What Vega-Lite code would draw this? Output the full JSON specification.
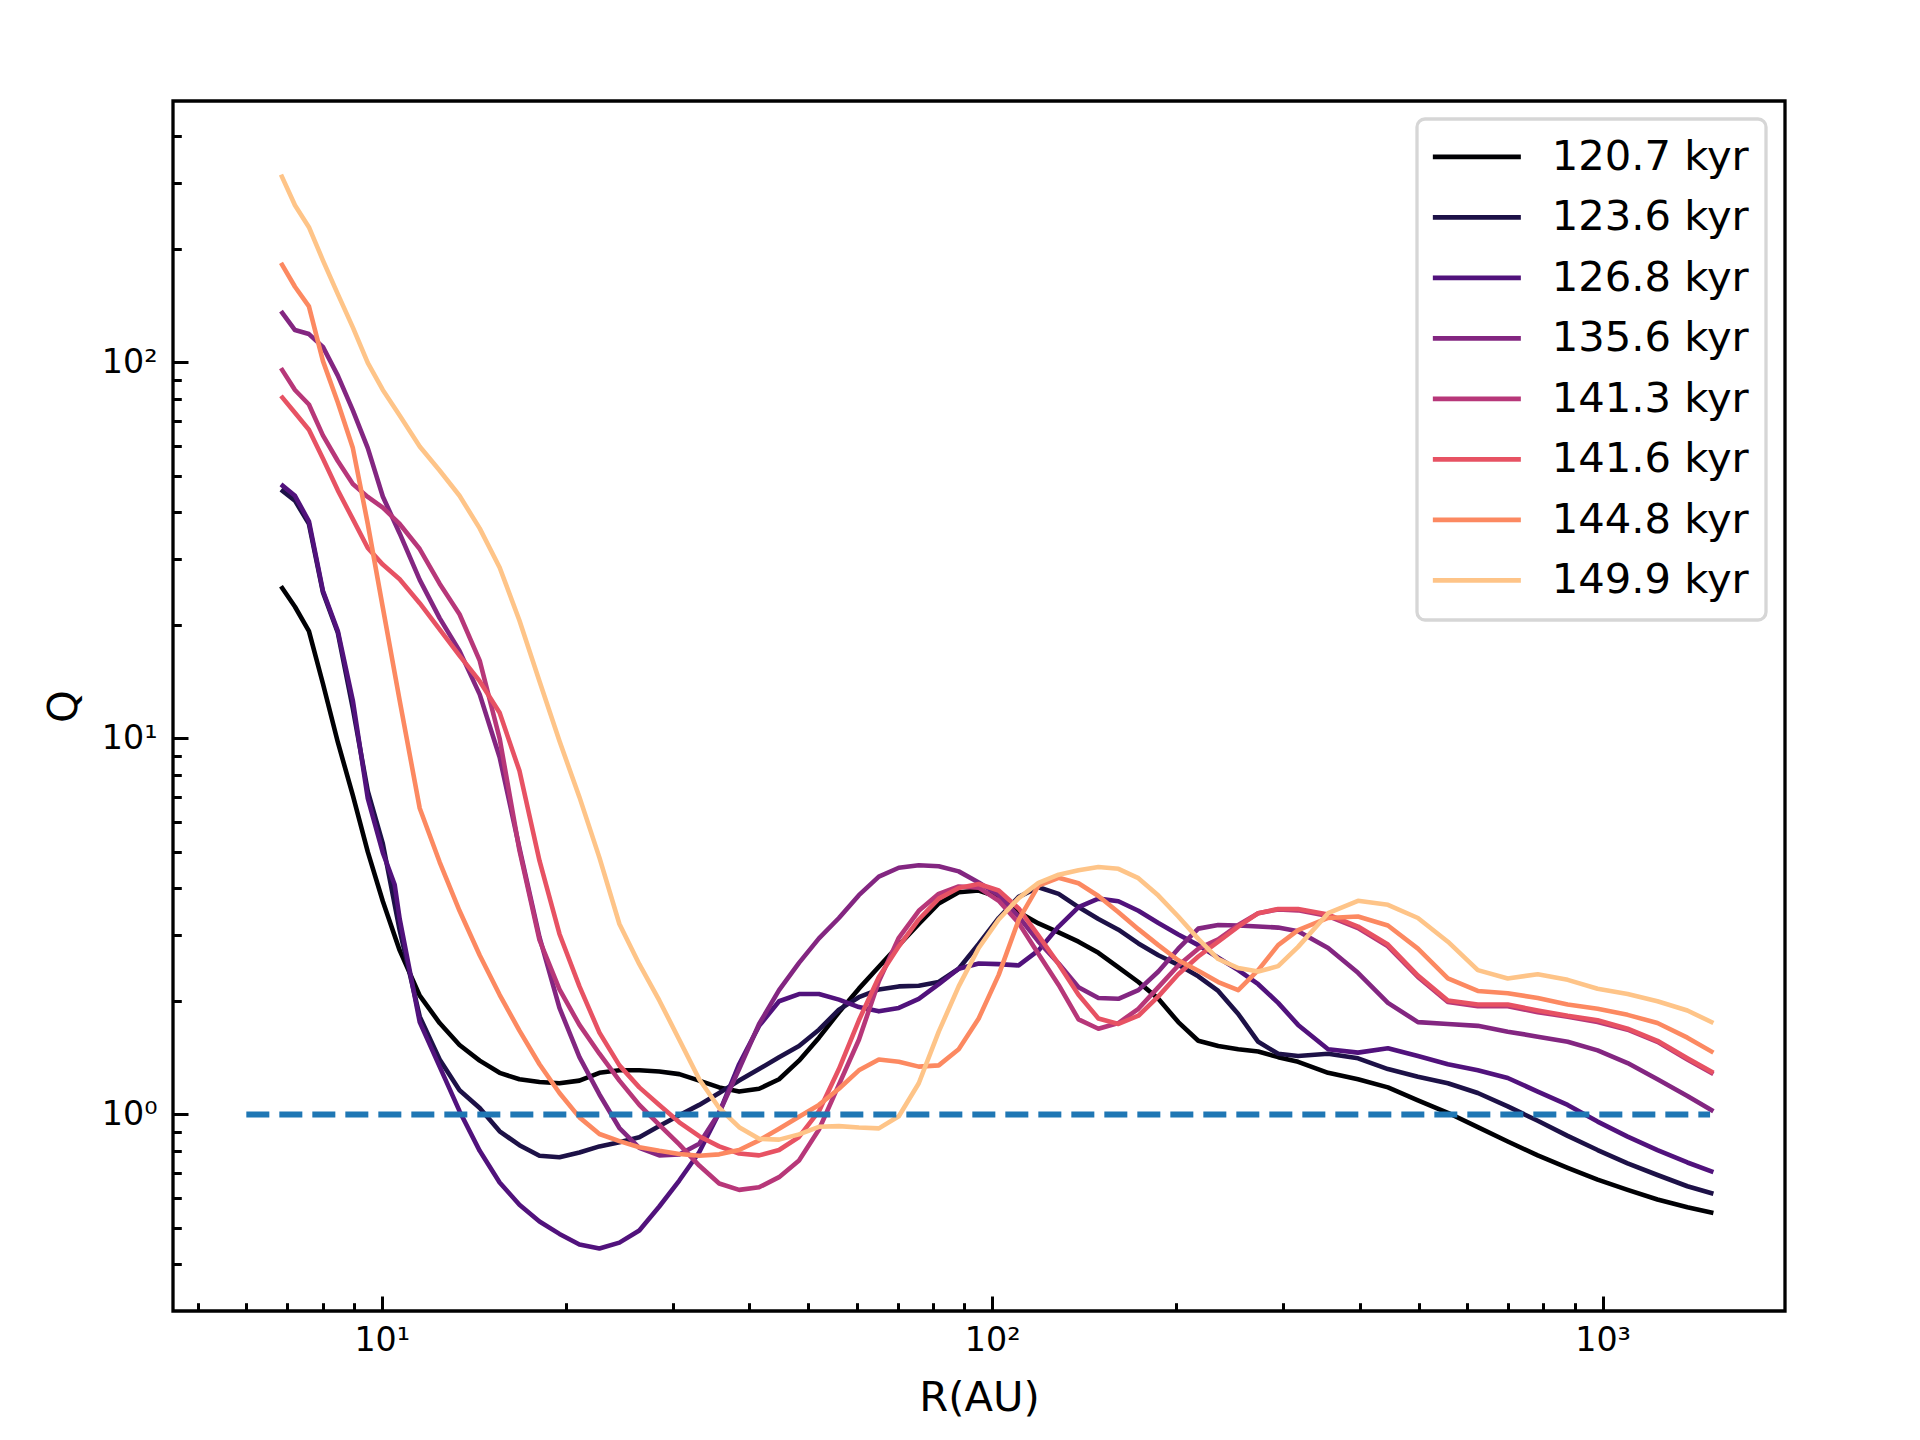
{
  "$schema": "https://vega.github.io/schema/vega-lite/v6.json",
  "width": 1612,
  "height": 1210,
  "autosize": {"type": "none"},
  "padding": {"left": 173, "top": 101, "right": 135, "bottom": 129},
  "background": "white",
  "datasets": {
    "qline": [{"R": 6, "Q": 1}, {"R": 1500, "Q": 1}],
    "curves": [
      {"t":"120.7 kyr","R":6.838,"Q":25.4},{"t":"120.7 kyr","R":7.208,"Q":22.4},{"t":"120.7 kyr","R":7.598,"Q":19.3},{"t":"120.7 kyr","R":8.009,"Q":14.0},{"t":"120.7 kyr","R":8.473,"Q":9.77},{"t":"120.7 kyr","R":8.967,"Q":7.06},{"t":"120.7 kyr","R":9.487,"Q":4.99},{"t":"120.7 kyr","R":10.04,"Q":3.69},
      {"t":"120.7 kyr","R":10.70,"Q":2.73},{"t":"120.7 kyr","R":11.54,"Q":2.07},{"t":"120.7 kyr","R":12.44,"Q":1.75},{"t":"120.7 kyr","R":13.41,"Q":1.53},{"t":"120.7 kyr","R":14.47,"Q":1.39},{"t":"120.7 kyr","R":15.60,"Q":1.29},{"t":"120.7 kyr","R":16.81,"Q":1.24},{"t":"120.7 kyr","R":18.13,"Q":1.22},{"t":"120.7 kyr","R":19.55,"Q":1.21},{"t":"120.7 kyr","R":21.08,"Q":1.23},
      {"t":"120.7 kyr","R":22.73,"Q":1.29},{"t":"120.7 kyr","R":24.51,"Q":1.31},{"t":"120.7 kyr","R":26.42,"Q":1.31},{"t":"120.7 kyr","R":28.49,"Q":1.30},{"t":"120.7 kyr","R":30.72,"Q":1.28},{"t":"120.7 kyr","R":33.12,"Q":1.23},{"t":"120.7 kyr","R":35.71,"Q":1.18},{"t":"120.7 kyr","R":38.50,"Q":1.15},{"t":"120.7 kyr","R":41.51,"Q":1.17},{"t":"120.7 kyr","R":44.76,"Q":1.24},
      {"t":"120.7 kyr","R":48.26,"Q":1.39},{"t":"120.7 kyr","R":52.03,"Q":1.60},{"t":"120.7 kyr","R":56.10,"Q":1.87},{"t":"120.7 kyr","R":60.49,"Q":2.16},{"t":"120.7 kyr","R":65.22,"Q":2.47},{"t":"120.7 kyr","R":70.32,"Q":2.82},{"t":"120.7 kyr","R":75.82,"Q":3.21},{"t":"120.7 kyr","R":81.75,"Q":3.64},{"t":"120.7 kyr","R":88.14,"Q":3.90},{"t":"120.7 kyr","R":95.05,"Q":3.94},
      {"t":"120.7 kyr","R":102.5,"Q":3.78},{"t":"120.7 kyr","R":110.5,"Q":3.45},{"t":"120.7 kyr","R":119.1,"Q":3.22},{"t":"120.7 kyr","R":128.5,"Q":3.05},{"t":"120.7 kyr","R":138.5,"Q":2.88},{"t":"120.7 kyr","R":149.3,"Q":2.69},{"t":"120.7 kyr","R":161.0,"Q":2.46},{"t":"120.7 kyr","R":173.6,"Q":2.25},{"t":"120.7 kyr","R":187.2,"Q":2.03},{"t":"120.7 kyr","R":201.8,"Q":1.76},
      {"t":"120.7 kyr","R":217.6,"Q":1.57},{"t":"120.7 kyr","R":234.6,"Q":1.52},{"t":"120.7 kyr","R":253.0,"Q":1.49},{"t":"120.7 kyr","R":272.8,"Q":1.47},{"t":"120.7 kyr","R":294.1,"Q":1.42},{"t":"120.7 kyr","R":317.1,"Q":1.38},
      {"t":"120.7 kyr","R":355.1,"Q":1.29},{"t":"120.7 kyr","R":397.5,"Q":1.24},{"t":"120.7 kyr","R":445.0,"Q":1.18},{"t":"120.7 kyr","R":498.3,"Q":1.09},{"t":"120.7 kyr","R":557.9,"Q":1.01},{"t":"120.7 kyr","R":624.6,"Q":0.925},{"t":"120.7 kyr","R":699.3,"Q":0.847},{"t":"120.7 kyr","R":783.0,"Q":0.778},{"t":"120.7 kyr","R":876.6,"Q":0.721},{"t":"120.7 kyr","R":981.4,"Q":0.671},{"t":"120.7 kyr","R":1099,"Q":0.630},{"t":"120.7 kyr","R":1230,"Q":0.594},{"t":"120.7 kyr","R":1377,"Q":0.566},{"t":"120.7 kyr","R":1519,"Q":0.547},

      {"t":"123.6 kyr","R":6.838,"Q":45.9},{"t":"123.6 kyr","R":7.208,"Q":42.9},{"t":"123.6 kyr","R":7.598,"Q":37.2},{"t":"123.6 kyr","R":8.009,"Q":24.5},{"t":"123.6 kyr","R":8.473,"Q":19.1},{"t":"123.6 kyr","R":8.967,"Q":12.0},{"t":"123.6 kyr","R":9.487,"Q":7.24},{"t":"123.6 kyr","R":10.04,"Q":5.25},
      {"t":"123.6 kyr","R":10.70,"Q":3.09},{"t":"123.6 kyr","R":11.54,"Q":1.82},{"t":"123.6 kyr","R":12.44,"Q":1.40},{"t":"123.6 kyr","R":13.41,"Q":1.16},{"t":"123.6 kyr","R":14.47,"Q":1.04},{"t":"123.6 kyr","R":15.60,"Q":0.902},{"t":"123.6 kyr","R":16.81,"Q":0.828},{"t":"123.6 kyr","R":18.13,"Q":0.776},{"t":"123.6 kyr","R":19.55,"Q":0.769},{"t":"123.6 kyr","R":21.08,"Q":0.792},
      {"t":"123.6 kyr","R":22.73,"Q":0.822},{"t":"123.6 kyr","R":24.51,"Q":0.843},{"t":"123.6 kyr","R":26.42,"Q":0.869},{"t":"123.6 kyr","R":28.49,"Q":0.931},{"t":"123.6 kyr","R":30.72,"Q":0.995},{"t":"123.6 kyr","R":33.12,"Q":1.06},{"t":"123.6 kyr","R":35.71,"Q":1.14},{"t":"123.6 kyr","R":38.50,"Q":1.23},{"t":"123.6 kyr","R":41.51,"Q":1.32},{"t":"123.6 kyr","R":44.76,"Q":1.42},
      {"t":"123.6 kyr","R":48.26,"Q":1.52},{"t":"123.6 kyr","R":52.03,"Q":1.68},{"t":"123.6 kyr","R":56.10,"Q":1.90},{"t":"123.6 kyr","R":60.49,"Q":2.05},{"t":"123.6 kyr","R":65.22,"Q":2.15},{"t":"123.6 kyr","R":70.32,"Q":2.19},{"t":"123.6 kyr","R":75.82,"Q":2.20},{"t":"123.6 kyr","R":81.75,"Q":2.25},{"t":"123.6 kyr","R":88.14,"Q":2.44},{"t":"123.6 kyr","R":95.05,"Q":2.84},
      {"t":"123.6 kyr","R":102.5,"Q":3.33},{"t":"123.6 kyr","R":110.5,"Q":3.79},{"t":"123.6 kyr","R":119.1,"Q":4.02},{"t":"123.6 kyr","R":128.5,"Q":3.86},{"t":"123.6 kyr","R":138.5,"Q":3.56},{"t":"123.6 kyr","R":149.3,"Q":3.31},{"t":"123.6 kyr","R":161.0,"Q":3.10},{"t":"123.6 kyr","R":173.6,"Q":2.85},{"t":"123.6 kyr","R":187.2,"Q":2.65},{"t":"123.6 kyr","R":201.8,"Q":2.50},
      {"t":"123.6 kyr","R":217.6,"Q":2.33},{"t":"123.6 kyr","R":234.6,"Q":2.13},{"t":"123.6 kyr","R":253.0,"Q":1.85},{"t":"123.6 kyr","R":272.8,"Q":1.56},{"t":"123.6 kyr","R":294.1,"Q":1.45},{"t":"123.6 kyr","R":317.1,"Q":1.43},
      {"t":"123.6 kyr","R":355.1,"Q":1.45},{"t":"123.6 kyr","R":397.5,"Q":1.41},{"t":"123.6 kyr","R":445.0,"Q":1.32},{"t":"123.6 kyr","R":498.3,"Q":1.26},{"t":"123.6 kyr","R":557.9,"Q":1.21},{"t":"123.6 kyr","R":624.6,"Q":1.14},{"t":"123.6 kyr","R":699.3,"Q":1.05},{"t":"123.6 kyr","R":783.0,"Q":0.962},{"t":"123.6 kyr","R":876.6,"Q":0.877},{"t":"123.6 kyr","R":981.4,"Q":0.804},{"t":"123.6 kyr","R":1099,"Q":0.741},{"t":"123.6 kyr","R":1230,"Q":0.690},{"t":"123.6 kyr","R":1377,"Q":0.644},{"t":"123.6 kyr","R":1519,"Q":0.615},

      {"t":"126.8 kyr","R":6.838,"Q":47.4},{"t":"126.8 kyr","R":7.208,"Q":44.2},{"t":"126.8 kyr","R":7.598,"Q":37.8},{"t":"126.8 kyr","R":8.009,"Q":24.7},{"t":"126.8 kyr","R":8.473,"Q":19.3},{"t":"126.8 kyr","R":8.967,"Q":12.6},{"t":"126.8 kyr","R":9.487,"Q":6.93},{"t":"126.8 kyr","R":10.04,"Q":4.97},{"t":"126.8 kyr","R":10.50,"Q":4.08},
      {"t":"126.8 kyr","R":10.70,"Q":3.31},{"t":"126.8 kyr","R":11.54,"Q":1.76},{"t":"126.8 kyr","R":12.44,"Q":1.34},{"t":"126.8 kyr","R":13.41,"Q":1.02},{"t":"126.8 kyr","R":14.47,"Q":0.800},{"t":"126.8 kyr","R":15.60,"Q":0.659},{"t":"126.8 kyr","R":16.81,"Q":0.575},{"t":"126.8 kyr","R":18.13,"Q":0.519},{"t":"126.8 kyr","R":19.55,"Q":0.481},{"t":"126.8 kyr","R":21.08,"Q":0.451},
      {"t":"126.8 kyr","R":22.73,"Q":0.440},{"t":"126.8 kyr","R":24.51,"Q":0.456},{"t":"126.8 kyr","R":26.42,"Q":0.491},{"t":"126.8 kyr","R":28.49,"Q":0.569},{"t":"126.8 kyr","R":30.72,"Q":0.667},{"t":"126.8 kyr","R":33.12,"Q":0.793},{"t":"126.8 kyr","R":35.71,"Q":1.01},{"t":"126.8 kyr","R":38.50,"Q":1.36},{"t":"126.8 kyr","R":41.51,"Q":1.72},{"t":"126.8 kyr","R":44.76,"Q":2.00},
      {"t":"126.8 kyr","R":48.26,"Q":2.09},{"t":"126.8 kyr","R":52.03,"Q":2.09},{"t":"126.8 kyr","R":56.10,"Q":2.02},{"t":"126.8 kyr","R":60.49,"Q":1.93},{"t":"126.8 kyr","R":65.22,"Q":1.88},{"t":"126.8 kyr","R":70.32,"Q":1.92},{"t":"126.8 kyr","R":75.82,"Q":2.03},{"t":"126.8 kyr","R":81.75,"Q":2.22},{"t":"126.8 kyr","R":88.14,"Q":2.44},{"t":"126.8 kyr","R":95.05,"Q":2.52},
      {"t":"126.8 kyr","R":102.5,"Q":2.51},{"t":"126.8 kyr","R":110.5,"Q":2.49},{"t":"126.8 kyr","R":119.1,"Q":2.73},{"t":"126.8 kyr","R":128.5,"Q":3.16},{"t":"126.8 kyr","R":138.5,"Q":3.56},{"t":"126.8 kyr","R":149.3,"Q":3.75},{"t":"126.8 kyr","R":161.0,"Q":3.69},{"t":"126.8 kyr","R":173.6,"Q":3.48},{"t":"126.8 kyr","R":187.2,"Q":3.23},{"t":"126.8 kyr","R":201.8,"Q":3.01},
      {"t":"126.8 kyr","R":217.6,"Q":2.82},{"t":"126.8 kyr","R":234.6,"Q":2.61},{"t":"126.8 kyr","R":253.0,"Q":2.42},{"t":"126.8 kyr","R":272.8,"Q":2.22},{"t":"126.8 kyr","R":294.1,"Q":1.98},{"t":"126.8 kyr","R":317.1,"Q":1.73},
      {"t":"126.8 kyr","R":355.1,"Q":1.49},{"t":"126.8 kyr","R":397.5,"Q":1.46},{"t":"126.8 kyr","R":445.0,"Q":1.50},{"t":"126.8 kyr","R":498.3,"Q":1.43},{"t":"126.8 kyr","R":557.9,"Q":1.36},{"t":"126.8 kyr","R":624.6,"Q":1.31},{"t":"126.8 kyr","R":699.3,"Q":1.25},{"t":"126.8 kyr","R":783.0,"Q":1.15},{"t":"126.8 kyr","R":876.6,"Q":1.06},{"t":"126.8 kyr","R":981.4,"Q":0.957},{"t":"126.8 kyr","R":1099,"Q":0.873},{"t":"126.8 kyr","R":1230,"Q":0.804},{"t":"126.8 kyr","R":1377,"Q":0.745},{"t":"126.8 kyr","R":1519,"Q":0.702},

      {"t":"135.6 kyr","R":6.838,"Q":137},{"t":"135.6 kyr","R":7.208,"Q":122},{"t":"135.6 kyr","R":7.598,"Q":119},{"t":"135.6 kyr","R":8.009,"Q":110},{"t":"135.6 kyr","R":8.473,"Q":92.3},{"t":"135.6 kyr","R":8.967,"Q":74.6},{"t":"135.6 kyr","R":9.487,"Q":59.2},{"t":"135.6 kyr","R":10.04,"Q":44.0},
      {"t":"135.6 kyr","R":10.70,"Q":35.1},{"t":"135.6 kyr","R":11.54,"Q":26.4},{"t":"135.6 kyr","R":12.44,"Q":20.9},{"t":"135.6 kyr","R":13.41,"Q":17.1},{"t":"135.6 kyr","R":14.47,"Q":13.1},{"t":"135.6 kyr","R":15.60,"Q":8.91},{"t":"135.6 kyr","R":16.81,"Q":5.11},{"t":"135.6 kyr","R":18.13,"Q":2.96},{"t":"135.6 kyr","R":19.55,"Q":1.92},{"t":"135.6 kyr","R":21.08,"Q":1.42},
      {"t":"135.6 kyr","R":22.73,"Q":1.13},{"t":"135.6 kyr","R":24.51,"Q":0.920},{"t":"135.6 kyr","R":26.42,"Q":0.815},{"t":"135.6 kyr","R":28.49,"Q":0.778},{"t":"135.6 kyr","R":30.72,"Q":0.782},{"t":"135.6 kyr","R":33.12,"Q":0.836},{"t":"135.6 kyr","R":35.71,"Q":1.01},{"t":"135.6 kyr","R":38.50,"Q":1.32},{"t":"135.6 kyr","R":41.51,"Q":1.74},{"t":"135.6 kyr","R":44.76,"Q":2.14},
      {"t":"135.6 kyr","R":48.26,"Q":2.53},{"t":"135.6 kyr","R":52.03,"Q":2.94},{"t":"135.6 kyr","R":56.10,"Q":3.33},{"t":"135.6 kyr","R":60.49,"Q":3.83},{"t":"135.6 kyr","R":65.22,"Q":4.29},{"t":"135.6 kyr","R":70.32,"Q":4.53},{"t":"135.6 kyr","R":75.82,"Q":4.60},{"t":"135.6 kyr","R":81.75,"Q":4.57},{"t":"135.6 kyr","R":88.14,"Q":4.43},{"t":"135.6 kyr","R":95.05,"Q":4.14},
      {"t":"135.6 kyr","R":102.5,"Q":3.83},{"t":"135.6 kyr","R":110.5,"Q":3.36},{"t":"135.6 kyr","R":119.1,"Q":2.88},{"t":"135.6 kyr","R":128.5,"Q":2.52},{"t":"135.6 kyr","R":138.5,"Q":2.18},{"t":"135.6 kyr","R":149.3,"Q":2.04},{"t":"135.6 kyr","R":161.0,"Q":2.03},{"t":"135.6 kyr","R":173.6,"Q":2.14},{"t":"135.6 kyr","R":187.2,"Q":2.40},{"t":"135.6 kyr","R":201.8,"Q":2.76},
      {"t":"135.6 kyr","R":217.6,"Q":3.12},{"t":"135.6 kyr","R":234.6,"Q":3.19},{"t":"135.6 kyr","R":253.0,"Q":3.18},{"t":"135.6 kyr","R":272.8,"Q":3.16},{"t":"135.6 kyr","R":294.1,"Q":3.14},{"t":"135.6 kyr","R":317.1,"Q":3.07},
      {"t":"135.6 kyr","R":355.1,"Q":2.77},{"t":"135.6 kyr","R":397.5,"Q":2.38},{"t":"135.6 kyr","R":445.0,"Q":1.98},{"t":"135.6 kyr","R":498.3,"Q":1.76},{"t":"135.6 kyr","R":557.9,"Q":1.74},{"t":"135.6 kyr","R":624.6,"Q":1.72},{"t":"135.6 kyr","R":699.3,"Q":1.66},{"t":"135.6 kyr","R":783.0,"Q":1.61},{"t":"135.6 kyr","R":876.6,"Q":1.56},{"t":"135.6 kyr","R":981.4,"Q":1.48},{"t":"135.6 kyr","R":1099,"Q":1.37},{"t":"135.6 kyr","R":1230,"Q":1.24},{"t":"135.6 kyr","R":1377,"Q":1.12},{"t":"135.6 kyr","R":1519,"Q":1.02},

      {"t":"141.3 kyr","R":6.838,"Q":96.6},{"t":"141.3 kyr","R":7.208,"Q":84.5},{"t":"141.3 kyr","R":7.598,"Q":77.3},{"t":"141.3 kyr","R":8.009,"Q":64.0},{"t":"141.3 kyr","R":8.473,"Q":54.7},{"t":"141.3 kyr","R":8.967,"Q":47.5},{"t":"141.3 kyr","R":9.487,"Q":43.9},{"t":"141.3 kyr","R":10.04,"Q":41.1},
      {"t":"141.3 kyr","R":10.70,"Q":37.2},{"t":"141.3 kyr","R":11.54,"Q":31.9},{"t":"141.3 kyr","R":12.44,"Q":25.8},{"t":"141.3 kyr","R":13.41,"Q":21.4},{"t":"141.3 kyr","R":14.47,"Q":16.1},{"t":"141.3 kyr","R":15.60,"Q":10.0},{"t":"141.3 kyr","R":16.81,"Q":5.04},{"t":"141.3 kyr","R":18.13,"Q":2.91},{"t":"141.3 kyr","R":19.55,"Q":2.15},{"t":"141.3 kyr","R":21.08,"Q":1.73},
      {"t":"141.3 kyr","R":22.73,"Q":1.45},{"t":"141.3 kyr","R":24.51,"Q":1.23},{"t":"141.3 kyr","R":26.42,"Q":1.06},{"t":"141.3 kyr","R":28.49,"Q":0.938},{"t":"141.3 kyr","R":30.72,"Q":0.832},{"t":"141.3 kyr","R":33.12,"Q":0.731},{"t":"141.3 kyr","R":35.71,"Q":0.655},{"t":"141.3 kyr","R":38.50,"Q":0.630},{"t":"141.3 kyr","R":41.51,"Q":0.640},{"t":"141.3 kyr","R":44.76,"Q":0.681},
      {"t":"141.3 kyr","R":48.26,"Q":0.754},{"t":"141.3 kyr","R":52.03,"Q":0.912},{"t":"141.3 kyr","R":56.10,"Q":1.20},{"t":"141.3 kyr","R":60.49,"Q":1.58},{"t":"141.3 kyr","R":65.22,"Q":2.26},{"t":"141.3 kyr","R":70.32,"Q":2.95},{"t":"141.3 kyr","R":75.82,"Q":3.48},{"t":"141.3 kyr","R":81.75,"Q":3.86},{"t":"141.3 kyr","R":88.14,"Q":4.04},{"t":"141.3 kyr","R":95.05,"Q":4.01},
      {"t":"141.3 kyr","R":102.5,"Q":3.70},{"t":"141.3 kyr","R":110.5,"Q":3.23},{"t":"141.3 kyr","R":119.1,"Q":2.67},{"t":"141.3 kyr","R":128.5,"Q":2.21},{"t":"141.3 kyr","R":138.5,"Q":1.79},{"t":"141.3 kyr","R":149.3,"Q":1.69},{"t":"141.3 kyr","R":161.0,"Q":1.75},{"t":"141.3 kyr","R":173.6,"Q":1.91},{"t":"141.3 kyr","R":187.2,"Q":2.18},{"t":"141.3 kyr","R":201.8,"Q":2.49},
      {"t":"141.3 kyr","R":217.6,"Q":2.76},{"t":"141.3 kyr","R":234.6,"Q":2.92},{"t":"141.3 kyr","R":253.0,"Q":3.19},{"t":"141.3 kyr","R":272.8,"Q":3.43},{"t":"141.3 kyr","R":294.1,"Q":3.51},{"t":"141.3 kyr","R":317.1,"Q":3.49},
      {"t":"141.3 kyr","R":355.1,"Q":3.37},{"t":"141.3 kyr","R":397.5,"Q":3.13},{"t":"141.3 kyr","R":445.0,"Q":2.80},{"t":"141.3 kyr","R":498.3,"Q":2.32},{"t":"141.3 kyr","R":557.9,"Q":1.99},{"t":"141.3 kyr","R":624.6,"Q":1.94},{"t":"141.3 kyr","R":699.3,"Q":1.94},{"t":"141.3 kyr","R":783.0,"Q":1.87},{"t":"141.3 kyr","R":876.6,"Q":1.82},{"t":"141.3 kyr","R":981.4,"Q":1.76},{"t":"141.3 kyr","R":1099,"Q":1.68},{"t":"141.3 kyr","R":1230,"Q":1.56},{"t":"141.3 kyr","R":1377,"Q":1.40},{"t":"141.3 kyr","R":1519,"Q":1.28},

      {"t":"141.6 kyr","R":6.838,"Q":81.5},{"t":"141.6 kyr","R":7.208,"Q":73.5},{"t":"141.6 kyr","R":7.598,"Q":66.2},{"t":"141.6 kyr","R":8.009,"Q":55.5},{"t":"141.6 kyr","R":8.473,"Q":45.7},{"t":"141.6 kyr","R":8.967,"Q":38.3},{"t":"141.6 kyr","R":9.487,"Q":32.1},{"t":"141.6 kyr","R":10.04,"Q":29.0},
      {"t":"141.6 kyr","R":10.70,"Q":26.5},{"t":"141.6 kyr","R":11.54,"Q":22.9},{"t":"141.6 kyr","R":12.44,"Q":19.5},{"t":"141.6 kyr","R":13.41,"Q":16.6},{"t":"141.6 kyr","R":14.47,"Q":14.2},{"t":"141.6 kyr","R":15.60,"Q":11.7},{"t":"141.6 kyr","R":16.81,"Q":8.20},{"t":"141.6 kyr","R":18.13,"Q":4.73},{"t":"141.6 kyr","R":19.55,"Q":3.02},{"t":"141.6 kyr","R":21.08,"Q":2.19},
      {"t":"141.6 kyr","R":22.73,"Q":1.65},{"t":"141.6 kyr","R":24.51,"Q":1.35},{"t":"141.6 kyr","R":26.42,"Q":1.18},{"t":"141.6 kyr","R":28.49,"Q":1.06},{"t":"141.6 kyr","R":30.72,"Q":0.953},{"t":"141.6 kyr","R":33.12,"Q":0.875},{"t":"141.6 kyr","R":35.71,"Q":0.822},{"t":"141.6 kyr","R":38.50,"Q":0.787},{"t":"141.6 kyr","R":41.51,"Q":0.778},{"t":"141.6 kyr","R":44.76,"Q":0.804},
      {"t":"141.6 kyr","R":48.26,"Q":0.871},{"t":"141.6 kyr","R":52.03,"Q":1.02},{"t":"141.6 kyr","R":56.10,"Q":1.32},{"t":"141.6 kyr","R":60.49,"Q":1.78},{"t":"141.6 kyr","R":65.22,"Q":2.32},{"t":"141.6 kyr","R":70.32,"Q":2.80},{"t":"141.6 kyr","R":75.82,"Q":3.30},{"t":"141.6 kyr","R":81.75,"Q":3.75},{"t":"141.6 kyr","R":88.14,"Q":4.00},{"t":"141.6 kyr","R":95.05,"Q":4.10},
      {"t":"141.6 kyr","R":102.5,"Q":3.94},{"t":"141.6 kyr","R":110.5,"Q":3.53},{"t":"141.6 kyr","R":119.1,"Q":2.99},{"t":"141.6 kyr","R":128.5,"Q":2.51},{"t":"141.6 kyr","R":138.5,"Q":2.08},{"t":"141.6 kyr","R":149.3,"Q":1.80},{"t":"141.6 kyr","R":161.0,"Q":1.74},{"t":"141.6 kyr","R":173.6,"Q":1.83},{"t":"141.6 kyr","R":187.2,"Q":2.06},{"t":"141.6 kyr","R":201.8,"Q":2.36},
      {"t":"141.6 kyr","R":217.6,"Q":2.63},{"t":"141.6 kyr","R":234.6,"Q":2.88},{"t":"141.6 kyr","R":253.0,"Q":3.16},{"t":"141.6 kyr","R":272.8,"Q":3.43},{"t":"141.6 kyr","R":294.1,"Q":3.52},{"t":"141.6 kyr","R":317.1,"Q":3.52},
      {"t":"141.6 kyr","R":355.1,"Q":3.40},{"t":"141.6 kyr","R":397.5,"Q":3.16},{"t":"141.6 kyr","R":445.0,"Q":2.83},{"t":"141.6 kyr","R":498.3,"Q":2.34},{"t":"141.6 kyr","R":557.9,"Q":2.01},{"t":"141.6 kyr","R":624.6,"Q":1.96},{"t":"141.6 kyr","R":699.3,"Q":1.96},{"t":"141.6 kyr","R":783.0,"Q":1.89},{"t":"141.6 kyr","R":876.6,"Q":1.83},{"t":"141.6 kyr","R":981.4,"Q":1.78},{"t":"141.6 kyr","R":1099,"Q":1.69},{"t":"141.6 kyr","R":1230,"Q":1.57},{"t":"141.6 kyr","R":1377,"Q":1.41},{"t":"141.6 kyr","R":1519,"Q":1.29},

      {"t":"144.8 kyr","R":6.838,"Q":184},{"t":"144.8 kyr","R":7.208,"Q":159},{"t":"144.8 kyr","R":7.598,"Q":141},{"t":"144.8 kyr","R":8.009,"Q":101},{"t":"144.8 kyr","R":8.473,"Q":78.3},{"t":"144.8 kyr","R":8.967,"Q":59.2},{"t":"144.8 kyr","R":9.487,"Q":37.2},{"t":"144.8 kyr","R":10.04,"Q":22.3},
      {"t":"144.8 kyr","R":10.70,"Q":12.6},{"t":"144.8 kyr","R":11.54,"Q":6.52},{"t":"144.8 kyr","R":12.44,"Q":4.69},{"t":"144.8 kyr","R":13.41,"Q":3.48},{"t":"144.8 kyr","R":14.47,"Q":2.65},{"t":"144.8 kyr","R":15.60,"Q":2.08},{"t":"144.8 kyr","R":16.81,"Q":1.67},{"t":"144.8 kyr","R":18.13,"Q":1.36},{"t":"144.8 kyr","R":19.55,"Q":1.14},{"t":"144.8 kyr","R":21.08,"Q":0.982},
      {"t":"144.8 kyr","R":22.73,"Q":0.887},{"t":"144.8 kyr","R":24.51,"Q":0.849},{"t":"144.8 kyr","R":26.42,"Q":0.818},{"t":"144.8 kyr","R":28.49,"Q":0.800},{"t":"144.8 kyr","R":30.72,"Q":0.785},{"t":"144.8 kyr","R":33.12,"Q":0.776},{"t":"144.8 kyr","R":35.71,"Q":0.783},{"t":"144.8 kyr","R":38.50,"Q":0.804},{"t":"144.8 kyr","R":41.51,"Q":0.853},{"t":"144.8 kyr","R":44.76,"Q":0.916},
      {"t":"144.8 kyr","R":48.26,"Q":0.986},{"t":"144.8 kyr","R":52.03,"Q":1.06},{"t":"144.8 kyr","R":56.10,"Q":1.17},{"t":"144.8 kyr","R":60.49,"Q":1.31},{"t":"144.8 kyr","R":65.22,"Q":1.40},{"t":"144.8 kyr","R":70.32,"Q":1.38},{"t":"144.8 kyr","R":75.82,"Q":1.34},{"t":"144.8 kyr","R":81.75,"Q":1.35},{"t":"144.8 kyr","R":88.14,"Q":1.49},{"t":"144.8 kyr","R":95.05,"Q":1.80},
      {"t":"144.8 kyr","R":102.5,"Q":2.35},{"t":"144.8 kyr","R":110.5,"Q":3.29},{"t":"144.8 kyr","R":119.1,"Q":4.06},{"t":"144.8 kyr","R":128.5,"Q":4.26},{"t":"144.8 kyr","R":138.5,"Q":4.12},{"t":"144.8 kyr","R":149.3,"Q":3.81},{"t":"144.8 kyr","R":161.0,"Q":3.45},{"t":"144.8 kyr","R":173.6,"Q":3.11},{"t":"144.8 kyr","R":187.2,"Q":2.82},{"t":"144.8 kyr","R":201.8,"Q":2.57},
      {"t":"144.8 kyr","R":217.6,"Q":2.41},{"t":"144.8 kyr","R":234.6,"Q":2.25},{"t":"144.8 kyr","R":253.0,"Q":2.14},{"t":"144.8 kyr","R":272.8,"Q":2.42},{"t":"144.8 kyr","R":294.1,"Q":2.82},{"t":"144.8 kyr","R":317.1,"Q":3.09},
      {"t":"144.8 kyr","R":355.1,"Q":3.33},{"t":"144.8 kyr","R":397.5,"Q":3.36},{"t":"144.8 kyr","R":445.0,"Q":3.18},{"t":"144.8 kyr","R":498.3,"Q":2.76},{"t":"144.8 kyr","R":557.9,"Q":2.30},{"t":"144.8 kyr","R":624.6,"Q":2.13},{"t":"144.8 kyr","R":699.3,"Q":2.10},{"t":"144.8 kyr","R":783.0,"Q":2.04},{"t":"144.8 kyr","R":876.6,"Q":1.96},{"t":"144.8 kyr","R":981.4,"Q":1.91},{"t":"144.8 kyr","R":1099,"Q":1.84},{"t":"144.8 kyr","R":1230,"Q":1.75},{"t":"144.8 kyr","R":1377,"Q":1.60},{"t":"144.8 kyr","R":1519,"Q":1.46},

      {"t":"149.9 kyr","R":6.838,"Q":316},{"t":"149.9 kyr","R":7.208,"Q":262},{"t":"149.9 kyr","R":7.598,"Q":229},{"t":"149.9 kyr","R":8.009,"Q":187},{"t":"149.9 kyr","R":8.473,"Q":152},{"t":"149.9 kyr","R":8.967,"Q":124},{"t":"149.9 kyr","R":9.487,"Q":99.8},{"t":"149.9 kyr","R":10.04,"Q":84.5},
      {"t":"149.9 kyr","R":10.70,"Q":72.3},{"t":"149.9 kyr","R":11.54,"Q":59.8},{"t":"149.9 kyr","R":12.44,"Q":51.6},{"t":"149.9 kyr","R":13.41,"Q":44.2},{"t":"149.9 kyr","R":14.47,"Q":36.2},{"t":"149.9 kyr","R":15.60,"Q":28.5},{"t":"149.9 kyr","R":16.81,"Q":20.6},{"t":"149.9 kyr","R":18.13,"Q":14.2},{"t":"149.9 kyr","R":19.55,"Q":9.84},{"t":"149.9 kyr","R":21.08,"Q":6.98},
      {"t":"149.9 kyr","R":22.73,"Q":4.82},{"t":"149.9 kyr","R":24.51,"Q":3.21},{"t":"149.9 kyr","R":26.42,"Q":2.51},{"t":"149.9 kyr","R":28.49,"Q":2.01},{"t":"149.9 kyr","R":30.72,"Q":1.58},{"t":"149.9 kyr","R":33.12,"Q":1.24},{"t":"149.9 kyr","R":35.71,"Q":1.04},{"t":"149.9 kyr","R":38.50,"Q":0.925},{"t":"149.9 kyr","R":41.51,"Q":0.861},{"t":"149.9 kyr","R":44.76,"Q":0.857},
      {"t":"149.9 kyr","R":48.26,"Q":0.885},{"t":"149.9 kyr","R":52.03,"Q":0.927},{"t":"149.9 kyr","R":56.10,"Q":0.931},{"t":"149.9 kyr","R":60.49,"Q":0.923},{"t":"149.9 kyr","R":65.22,"Q":0.918},{"t":"149.9 kyr","R":70.32,"Q":0.989},{"t":"149.9 kyr","R":75.82,"Q":1.21},{"t":"149.9 kyr","R":81.75,"Q":1.66},{"t":"149.9 kyr","R":88.14,"Q":2.19},{"t":"149.9 kyr","R":95.05,"Q":2.77},
      {"t":"149.9 kyr","R":102.5,"Q":3.30},{"t":"149.9 kyr","R":110.5,"Q":3.76},{"t":"149.9 kyr","R":119.1,"Q":4.13},{"t":"149.9 kyr","R":128.5,"Q":4.34},{"t":"149.9 kyr","R":138.5,"Q":4.46},{"t":"149.9 kyr","R":149.3,"Q":4.55},{"t":"149.9 kyr","R":161.0,"Q":4.50},{"t":"149.9 kyr","R":173.6,"Q":4.25},{"t":"149.9 kyr","R":187.2,"Q":3.82},{"t":"149.9 kyr","R":201.8,"Q":3.36},
      {"t":"149.9 kyr","R":217.6,"Q":2.93},{"t":"149.9 kyr","R":234.6,"Q":2.59},{"t":"149.9 kyr","R":253.0,"Q":2.45},{"t":"149.9 kyr","R":272.8,"Q":2.40},{"t":"149.9 kyr","R":294.1,"Q":2.48},{"t":"149.9 kyr","R":317.1,"Q":2.79},
      {"t":"149.9 kyr","R":355.1,"Q":3.43},{"t":"149.9 kyr","R":397.5,"Q":3.70},{"t":"149.9 kyr","R":445.0,"Q":3.61},{"t":"149.9 kyr","R":498.3,"Q":3.33},{"t":"149.9 kyr","R":557.9,"Q":2.88},{"t":"149.9 kyr","R":624.6,"Q":2.42},{"t":"149.9 kyr","R":699.3,"Q":2.30},{"t":"149.9 kyr","R":783.0,"Q":2.36},{"t":"149.9 kyr","R":876.6,"Q":2.28},{"t":"149.9 kyr","R":981.4,"Q":2.16},{"t":"149.9 kyr","R":1099,"Q":2.09},{"t":"149.9 kyr","R":1230,"Q":2.00},{"t":"149.9 kyr","R":1377,"Q":1.89},{"t":"149.9 kyr","R":1519,"Q":1.75}
    ]
  },
  "layer": [
    {
      "data": {"name": "curves"},
      "mark": {"type": "line", "strokeWidth": 4.6, "strokeJoin": "round"},
      "encoding": {
        "x": {
          "field": "R",
          "type": "quantitative",
          "scale": {"type": "log", "domain": [4.55, 1990], "nice": false},
          "axis": {
            "values": [5, 6, 7, 8, 9, 10, 20, 30, 40, 50, 60, 70, 80, 90, 100, 200, 300, 400, 500, 600, 700, 800, 900, 1000],
            "labelExpr": "datum.value == 10 ? '10¹' : datum.value == 100 ? '10²' : datum.value == 1000 ? '10³' : ''",
            "tickSize": {"condition": {"test": "datum.value == 10 || datum.value == 100 || datum.value == 1000", "value": -15}, "value": -8.3},
            "tickWidth": 3,
            "tickColor": "black",
            "domain": false,
            "grid": false,
            "labelOverlap": false,
            "labelFlush": false,
            "labelFont": "DejaVu Sans",
            "labelFontSize": 33.3,
            "labelColor": "black",
            "labelPadding": 28,
            "title": "R(AU)",
            "titleFont": "DejaVu Sans",
            "titleFontSize": 41.7,
            "titleFontWeight": "normal",
            "titleColor": "black",
            "titlePadding": 14
          }
        },
        "y": {
          "field": "Q",
          "type": "quantitative",
          "scale": {"type": "log", "domain": [0.3, 496], "nice": false},
          "axis": {
            "values": [0.4, 0.5, 0.6, 0.7, 0.8, 0.9, 1, 2, 3, 4, 5, 6, 7, 8, 9, 10, 20, 30, 40, 50, 60, 70, 80, 90, 100, 200, 300, 400],
            "labelExpr": "datum.value == 1 ? '10⁰' : datum.value == 10 ? '10¹' : datum.value == 100 ? '10²' : ''",
            "tickSize": {"condition": {"test": "datum.value == 1 || datum.value == 10 || datum.value == 100", "value": -15}, "value": -8.3},
            "tickWidth": 3,
            "tickColor": "black",
            "domain": false,
            "grid": false,
            "labelOverlap": false,
            "labelFlush": false,
            "labelFont": "DejaVu Sans",
            "labelFontSize": 33.3,
            "labelColor": "black",
            "labelPadding": 31,
            "title": "Q",
            "titleFont": "DejaVu Sans",
            "titleFontSize": 41.7,
            "titleFontWeight": "normal",
            "titleColor": "black",
            "titlePadding": 16
          }
        },
        "color": {
          "field": "t",
          "type": "nominal",
          "scale": {
            "domain": ["120.7 kyr", "123.6 kyr", "126.8 kyr", "135.6 kyr", "141.3 kyr", "141.6 kyr", "144.8 kyr", "149.9 kyr"],
            "range": ["#000004", "#1d1147", "#51127c", "#832681", "#b73779", "#e75263", "#fc8961", "#fec488"]
          },
          "legend": {
            "orient": "none",
            "legendX": 1244,
            "legendY": 18,
            "title": null,
            "symbolType": "M-2,0H6",
            "symbolSize": 484,
            "symbolStrokeWidth": 4.6,
            "labelFont": "DejaVu Sans",
            "labelFontSize": 41.7,
            "labelColor": "black",
            "labelLimit": 400,
            "labelOffset": 76,
            "rowPadding": 17.5,
            "padding": 17,
            "strokeColor": "#d6d6d6",
            "fillColor": "white",
            "cornerRadius": 8
          }
        }
      }
    },
    {
      "data": {"name": "qline"},
      "mark": {"type": "line", "color": "#1f77b4", "strokeWidth": 6, "strokeDash": [23, 10]},
      "encoding": {
        "x": {"field": "R", "type": "quantitative"},
        "y": {"field": "Q", "type": "quantitative"}
      }
    }
  ],
  "config": {
    "view": {"stroke": "black", "strokeWidth": 3.3},
    "legend": {"strokeWidth": 3.3},
    "font": "DejaVu Sans"
  }
}
